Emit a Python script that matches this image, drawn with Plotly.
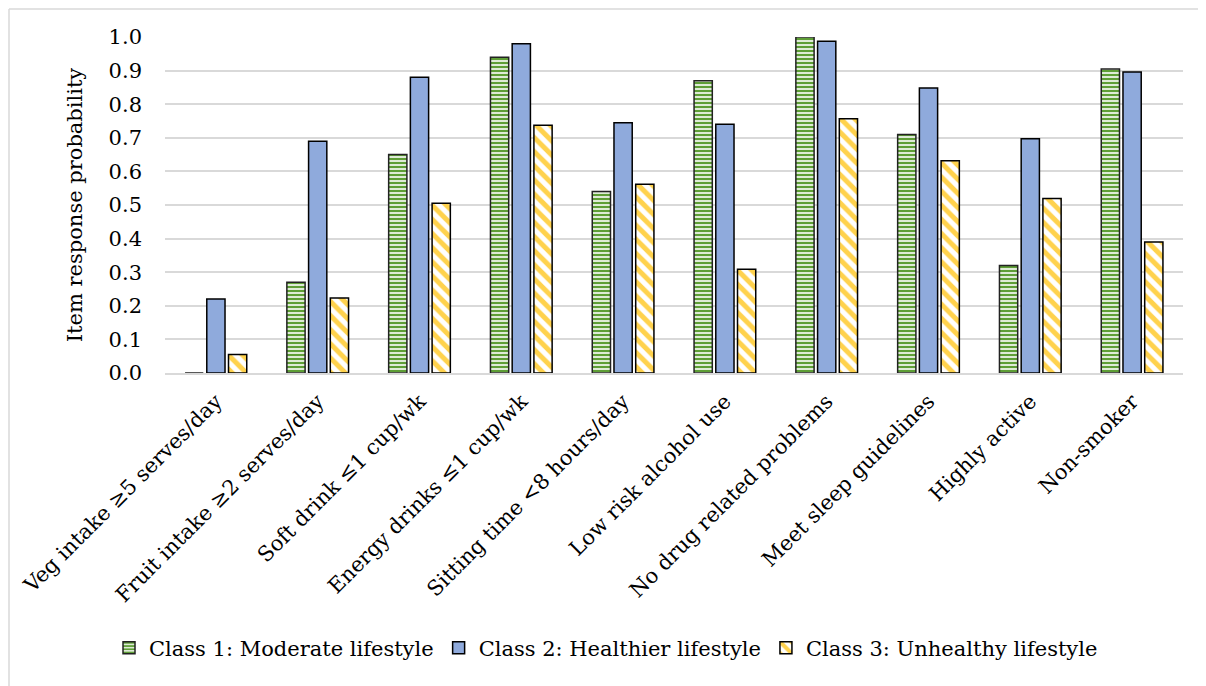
import plotly.graph_objects as go

categories = [
    "Veg intake ≥5 serves/day",
    "Fruit intake ≥2 serves/day",
    "Soft drink ≤1 cup/wk",
    "Energy drinks ≤1 cup/wk",
    "Sitting time <8 hours/day",
    "Low risk alcohol use",
    "No drug related problems",
    "Meet sleep guidelines",
    "Highly active",
    "Non-smoker",
]
class1 = [0.00, 0.27, 0.65, 0.94, 0.54, 0.87, 1.00, 0.71, 0.32, 0.905]
class2 = [0.22, 0.69, 0.88, 0.98, 0.745, 0.74, 0.987, 0.848, 0.697, 0.896]
class3 = [0.055, 0.223, 0.505, 0.737, 0.562, 0.309, 0.757, 0.632, 0.519, 0.39]
series_names = [
    "Class 1: Moderate lifestyle",
    "Class 2: Healthier lifestyle",
    "Class 3: Unhealthy lifestyle",
]
yticks = [i / 10 for i in range(11)]

FONT = "DejaVu Serif"
FS = 21

W, H = 1198, 678
L, R, T, B = 157, 23, 29, 313
PW, PH = W - L - R, H - T - B

fig = go.Figure()
fig.add_trace(go.Bar(
    x=categories, y=class1, name=series_names[0],
    marker=dict(color="white",
                line=dict(color="#222222", width=1.5),
                pattern=dict(shape="-", fgcolor="#5E9E36", bgcolor="white",
                             fgopacity=1, size=4, solidity=0.6)),
))
fig.add_trace(go.Bar(
    x=categories, y=class2, name=series_names[1],
    marker=dict(color="#8FAADC", line=dict(color="black", width=1.5)),
))
fig.add_trace(go.Bar(
    x=categories, y=class3, name=series_names[2],
    marker=dict(color="white",
                line=dict(color="black", width=1.5),
                pattern=dict(shape="\\", fgcolor="#FFD24D", bgcolor="white",
                             fgopacity=1, size=10, solidity=0.5)),
))

fig.update_layout(
    width=W, height=H,
    margin=dict(l=L, r=R, t=T, b=B, autoexpand=False),
    paper_bgcolor="white", plot_bgcolor="white",
    font=dict(family=FONT, size=FS, color="black"),
    barmode="group", bargap=0.36, bargroupgap=0.16,
    showlegend=True,
    legend=dict(orientation="h", x=(598 - L) / PW, xanchor="center",
                y=-(640 - T - PH) / PH, yanchor="middle",
                font=dict(size=FS, family=FONT), itemwidth=30,
                traceorder="normal"),
    shapes=[
        dict(type="line", xref="paper", yref="paper",
             x0=(1 - L) / PW, x1=(1 - L) / PW,
             y0=(T + PH - 1) / PH, y1=(T + PH - H - 5) / PH,
             line=dict(color="#D9D9D9", width=1.5)),
        dict(type="line", xref="paper", yref="paper",
             x0=(1 - L) / PW, x1=(W + 5 - L) / PW,
             y0=(T + PH - 1) / PH, y1=(T + PH - 1) / PH,
             line=dict(color="#D9D9D9", width=1.5)),
    ],
)
fig.update_xaxes(
    tickangle=-45, showgrid=False, showline=True, linecolor="#D9D9D9",
    linewidth=1.5, ticks="", ticklabelstandoff=6,
    tickfont=dict(size=FS, family=FONT),
)
fig.update_yaxes(
    range=[0, 1.0], tickvals=yticks, ticktext=[f"{v:.1f}" for v in yticks],
    showgrid=True, gridcolor="#D9D9D9", gridwidth=1.5, zeroline=False,
    showline=False, ticks="", ticklabelstandoff=22,
    tickfont=dict(size=FS, family=FONT),
    title=dict(text="Item response probability", font=dict(size=FS, family=FONT),
               standoff=20),
)

fig.write_html("out.html")
